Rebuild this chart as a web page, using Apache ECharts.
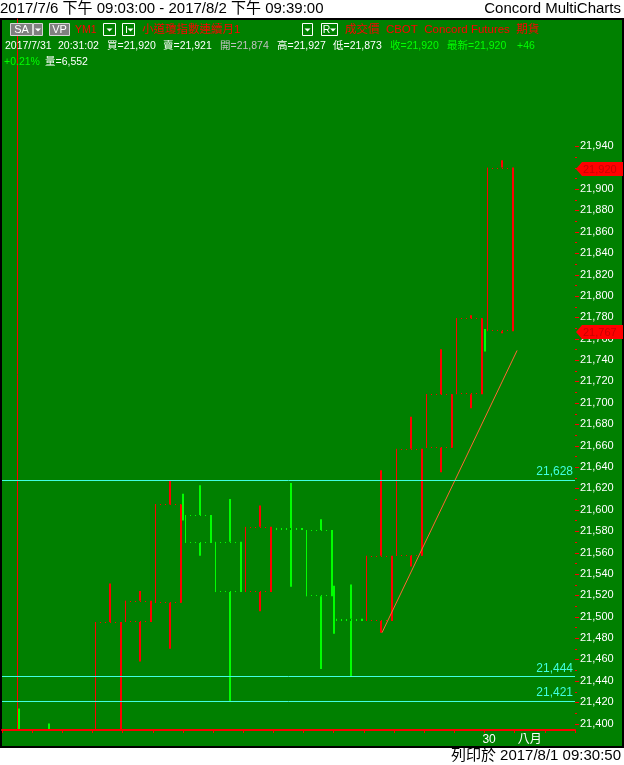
<!DOCTYPE html>
<html><head><meta charset="utf-8">
<script src="https://cdn.jsdelivr.net/npm/echarts@6/dist/echarts.min.js"></script>
<style>html,body{margin:0;padding:0;background:#fff;}#c{width:624px;height:765px;}</style>
</head><body><div id="c"></div>
<script>
// ---------- data ----------
const dates  = ['7/7','7/10','7/11','7/12','7/13','7/14','7/17','7/18','7/19','7/20','7/21','7/24','7/25','7/26','7/27','7/28','7/31','8/1','8/2'];
const opens  = [21392, 21388, 21372, 21380, 21495, 21513, 21595, 21570, 21523, 21583, 21581, 21498, 21496, 21557, 21658, 21708, 21767, null, null];
const closes = [21378, 21372, 21380, 21495, 21515, 21605, 21569, 21523, 21584, 21581, 21519, 21496, 21557, 21657, 21708, 21779, 21920, null, null];
const lows   = [21368, 21360, 21350, 21370, 21458, 21470, 21557, 21421, 21505, 21528, 21451, 21444, 21485, 21547, 21635, 21695, 21765, null, null];
const highs  = [21414, 21400, 21390, 21531, 21524, 21627, 21623, 21610, 21604, 21625, 21591, 21530, 21637, 21687, 21750, 21782, 21927, null, null];

// short Sunday-session bars (position between trading days)
const sunPos  = [5.5, 10.5, 15.5];
const sunLow  = [21590, 21484, 21748];
const sunHigh = [21615, 21529, 21769];

// trend line
const trendX = [12.1, 16.58];
const trendY = [21485, 21749];

// horizontal levels and price flags
const levels = [21628, 21444, 21421];
const flagValues = [21920, 21767];

// axis labels
const yTickLabels = [21400,21420,21440,21460,21480,21500,21520,21540,21560,21580,21600,21620,21640,21660,21680,21700,21720,21740,21760,21780,21800,21820,21840,21860,21880,21900,21920,21940];
const xLabelPos  = [15.65, 17];
const xLabelText = ['30', '八月'];

// ---------- style ----------
const RED = '#ff0000', LIME = '#00ff00', BG = '#008000', CYAN = '#40ffe0', WHITE = '#ffffff', ORANGE = '#ff6633';
const FONT = "'Liberation Sans','Noto Sans CJK TC',sans-serif";
const fmt = v => Number(v).toLocaleString('en-US');

const yMinorTicks = [];
for (let v = yTickLabels[0]; v <= yTickLabels[yTickLabels.length - 1]; v += 10) yMinorTicks.push(v);

const candleData = [];
dates.forEach((d, i) => { if (opens[i] != null) candleData.push([i, opens[i], closes[i], lows[i], highs[i]]); });
const sunData = sunPos.map((p, i) => [p, sunLow[i], sunHigh[i]]);
const trendData = trendX.map((x, i) => [x, trendY[i]]);

function renderCandle(params, api) {
  const cs = params.coordSys, gTop = cs.y, gBot = cs.y + cs.height;
  const i = api.value(0), o = api.value(1), c = api.value(2), l = api.value(3), h = api.value(4);
  const cx = Math.round(api.coord([i, o])[0]);
  const yO = api.coord([i, o])[1], yC = api.coord([i, c])[1], yL = api.coord([i, l])[1], yH = api.coord([i, h])[1];
  const hw = Math.round(api.size([1, 0])[0] * 0.42);
  const col = c >= o ? RED : LIME;
  const top = Math.min(yO, yC), bot = Math.max(yO, yC);
  const cl = y => Math.max(gTop, Math.min(gBot - 1, y));
  const kids = [];
  const vline = (x, y1, y2, w) => { const a = cl(y1), b = cl(y2); if (b - a < 0.5) return; kids.push({type:'line', shape:{x1:x, y1:a, x2:x, y2:b}, style:{stroke:col, lineWidth:w}}); };
  const hline = (y, x1, x2) => { if (y < gTop || y > gBot - 1) return; kids.push({type:'line', shape:{x1, y1:y, x2, y2:y}, style:{stroke:col, lineWidth:1, lineDash:[1, 4]}}); };
  vline(cx - hw + 0.5, top, bot, 1);
  vline(cx + hw, top, bot, 2);
  hline(Math.round(top) + 0.5, cx - hw, cx + hw);
  hline(Math.round(bot) - 0.5, cx - hw, cx + hw);
  vline(cx + 2, yH, top, 2);
  vline(cx + 2, bot, yL, 2);
  return {type:'group', children: kids};
}
function renderSun(params, api) {
  const x = Math.round(api.coord([api.value(0), api.value(1)])[0]);
  const y1 = api.coord([api.value(0), api.value(2)])[1], y2 = api.coord([api.value(0), api.value(1)])[1];
  return {type:'line', shape:{x1:x, y1:y1, x2:x, y2:y2}, style:{stroke:LIME, lineWidth:2}};
}
function renderFlag(params, api) {
  const cs = params.coordSys, v = api.value(1);
  const y = Math.round(api.coord([0, v])[1]) + 1;
  const x0 = cs.x + cs.width;
  return {type:'group', children:[
    {type:'polygon', shape:{points:[[x0 + 1, y], [x0 + 7, y - 7], [x0 + 48, y - 7], [x0 + 48, y + 7], [x0 + 7, y + 7]]}, style:{fill:RED}},
    {type:'text', style:{text: fmt(v), x: x0 + 8, y: y + 0.5, fill:'#c80000', font:'11px ' + FONT, textVerticalAlign:'middle'}}
  ]};
}
// y-axis ticks (major at labelled values, minor between)
function renderTick(params, api) {
  const cs = params.coordSys, v = api.value(1);
  const y = Math.round(api.coord([0, v])[1]) + 0.5;
  const x0 = cs.x + cs.width;
  const len = yTickLabels.indexOf(v) >= 0 ? 4 : 2;
  return {type:'line', shape:{x1:x0, y1:y, x2:x0 + len, y2:y}, style:{stroke:RED, lineWidth:1}};
}

// ---------- header / frame graphics ----------
const g = [];
g.push({type:'rect', z:-10, shape:{x:1, y:19, width:622, height:728}, style:{fill:BG, stroke:'#000', lineWidth:2}});
const txt = (x, y, s, color, size, align) => g.push({type:'text', z:50, style:{text:s, x, y, fill:color, font:size + 'px ' + FONT, textAlign:align || 'left', textVerticalAlign:'middle'}});
const box = (x, y, w, h, fill, stroke) => g.push({type:'rect', z:50, shape:{x, y, width:w, height:h}, style:{fill:fill || 'none', stroke, lineWidth:1}});
const tri = (cx, cy) => g.push({type:'polygon', z:51, shape:{points:[[cx - 3, cy - 1.5], [cx + 3, cy - 1.5], [cx, cy + 1.5]]}, style:{fill:'#fff'}});

txt(0, 9, '2017/7/6 下午 09:03:00 - 2017/8/2 下午 09:39:00', '#000', 15);
txt(621, 9, 'Concord MultiCharts', '#000', 15, 'right');
txt(621, 756, '列印於 2017/8/1 09:30:50', '#000', 15, 'right');

const r1 = 30;
box(10.5, 23.5, 22, 12, '#808080', '#d8d8d8'); txt(21.5, r1, 'SA', '#fff', 11, 'center');
box(33.5, 23.5, 9, 12, '#808080', '#d8d8d8'); tri(38, r1);
box(49.5, 23.5, 20, 12, '#808080', '#d8d8d8'); txt(59.5, r1, 'VP', '#fff', 11, 'center');
txt(75, r1, 'YM1', RED, 10.5);
box(103.5, 23.5, 12, 12, null, '#fff'); tri(109.5, r1);
box(122.5, 23.5, 12, 12, null, '#fff');
g.push({type:'line', z:51, shape:{x1:126.5, y1:26, x2:126.5, y2:33}, style:{stroke:'#fff', lineWidth:1}}); tri(130.5, r1);
txt(142, r1, '小道瓊指數連續月1', RED, 11.5);
box(302.5, 23.5, 10, 12, null, '#fff'); tri(307.5, r1);
box(321.5, 23.5, 16, 12, null, '#fff'); txt(326.5, r1, 'R', '#fff', 10.5, 'center'); tri(333, r1);
txt(345, r1, '成交價  CBOT  Concord Futures  期貨', RED, 11.5);

const r2 = 46, GRAY = '#c0c0c0';
txt(5, r2, '2017/7/31', WHITE, 10.5);
txt(58, r2, '20:31:02', WHITE, 10.5);
txt(107, r2, '買=21,920', WHITE, 10.5);
txt(163, r2, '賣=21,921', WHITE, 10.5);
txt(220, r2, '開=21,874', GRAY, 10.5);
txt(277, r2, '高=21,927', WHITE, 10.5);
txt(333, r2, '低=21,873', WHITE, 10.5);
txt(390, r2, '收=21,920', LIME, 10.5);
txt(447, r2, '最新=21,920', LIME, 10.5);
txt(517, r2, '+46', LIME, 10.5);
const r3 = 62;
txt(4, r3, '+0.21%', LIME, 10.5);
txt(45, r3, '量=6,552', WHITE, 10.5);

// ---------- chart ----------
const chart = echarts.init(document.getElementById('c'), null, {renderer:'canvas'});
chart.setOption({
  backgroundColor:'#ffffff',
  animation:false,
  graphic:{elements:g},
  grid:{left:2, right:49, top:19, bottom:35, containLabel:false},
  xAxis:[
    {type:'category', data:dates, boundaryGap:true,
     axisLine:{show:true, lineStyle:{color:RED, width:2}},
     axisTick:{show:true, interval:0, length:3, lineStyle:{color:RED}},
     axisLabel:{show:false}, splitLine:{show:false}},
    {type:'value', min:-0.5, max:18.5, position:'bottom',
     axisLine:{show:false}, axisTick:{show:false}, splitLine:{show:false},
     axisLabel:{show:true, customValues:xLabelPos, color:WHITE, fontSize:12, fontFamily:FONT, margin:4,
       formatter: v => { const k = xLabelPos.findIndex(p => Math.abs(p - v) < 1e-6); return k >= 0 ? xLabelText[k] : ''; }}}
  ],
  yAxis:{type:'value', position:'right', min:21394, max:22059,
    axisLine:{show:true, lineStyle:{color:RED, width:1}},
    axisTick:{show:false},
    axisLabel:{show:true, color:WHITE, fontSize:11, fontFamily:FONT, margin:5, customValues:yTickLabels, formatter:fmt},
    splitLine:{show:false}},
  series:[
    {type:'custom', name:'yticks', xAxisIndex:0, yAxisIndex:0, renderItem:renderTick,
     data:yMinorTicks.map(v => [0, v]), encode:{x:0, y:1}, clip:false, silent:true, z:5},
    {type:'custom', name:'candles', xAxisIndex:0, yAxisIndex:0, renderItem:renderCandle, data:candleData,
     encode:{x:0, y:[1,2,3,4]}, clip:true, silent:true, z:3},
    {type:'custom', name:'sunday', xAxisIndex:1, yAxisIndex:0, renderItem:renderSun, data:sunData,
     encode:{x:0, y:[1,2]}, clip:true, silent:true, z:3},
    {type:'line', name:'trend', xAxisIndex:1, yAxisIndex:0, data:trendData, showSymbol:false, silent:true, z:4,
     lineStyle:{color:ORANGE, width:1},
     markLine:{symbol:['none','none'], silent:true, animation:false,
       lineStyle:{color:CYAN, width:1, type:'solid'},
       label:{show:true, position:'insideEndTop', color:CYAN, fontSize:12, fontFamily:FONT, distance:[2, 2], formatter:p => fmt(p.value)},
       emphasis:{disabled:true},
       data:levels.map(v => ({yAxis:v}))}},
    {type:'custom', name:'flags', xAxisIndex:0, yAxisIndex:0, renderItem:renderFlag,
     data:flagValues.map(v => [0, v]), encode:{x:0, y:1}, clip:false, silent:true, z:10}
  ]
});
</script>
</body></html>
